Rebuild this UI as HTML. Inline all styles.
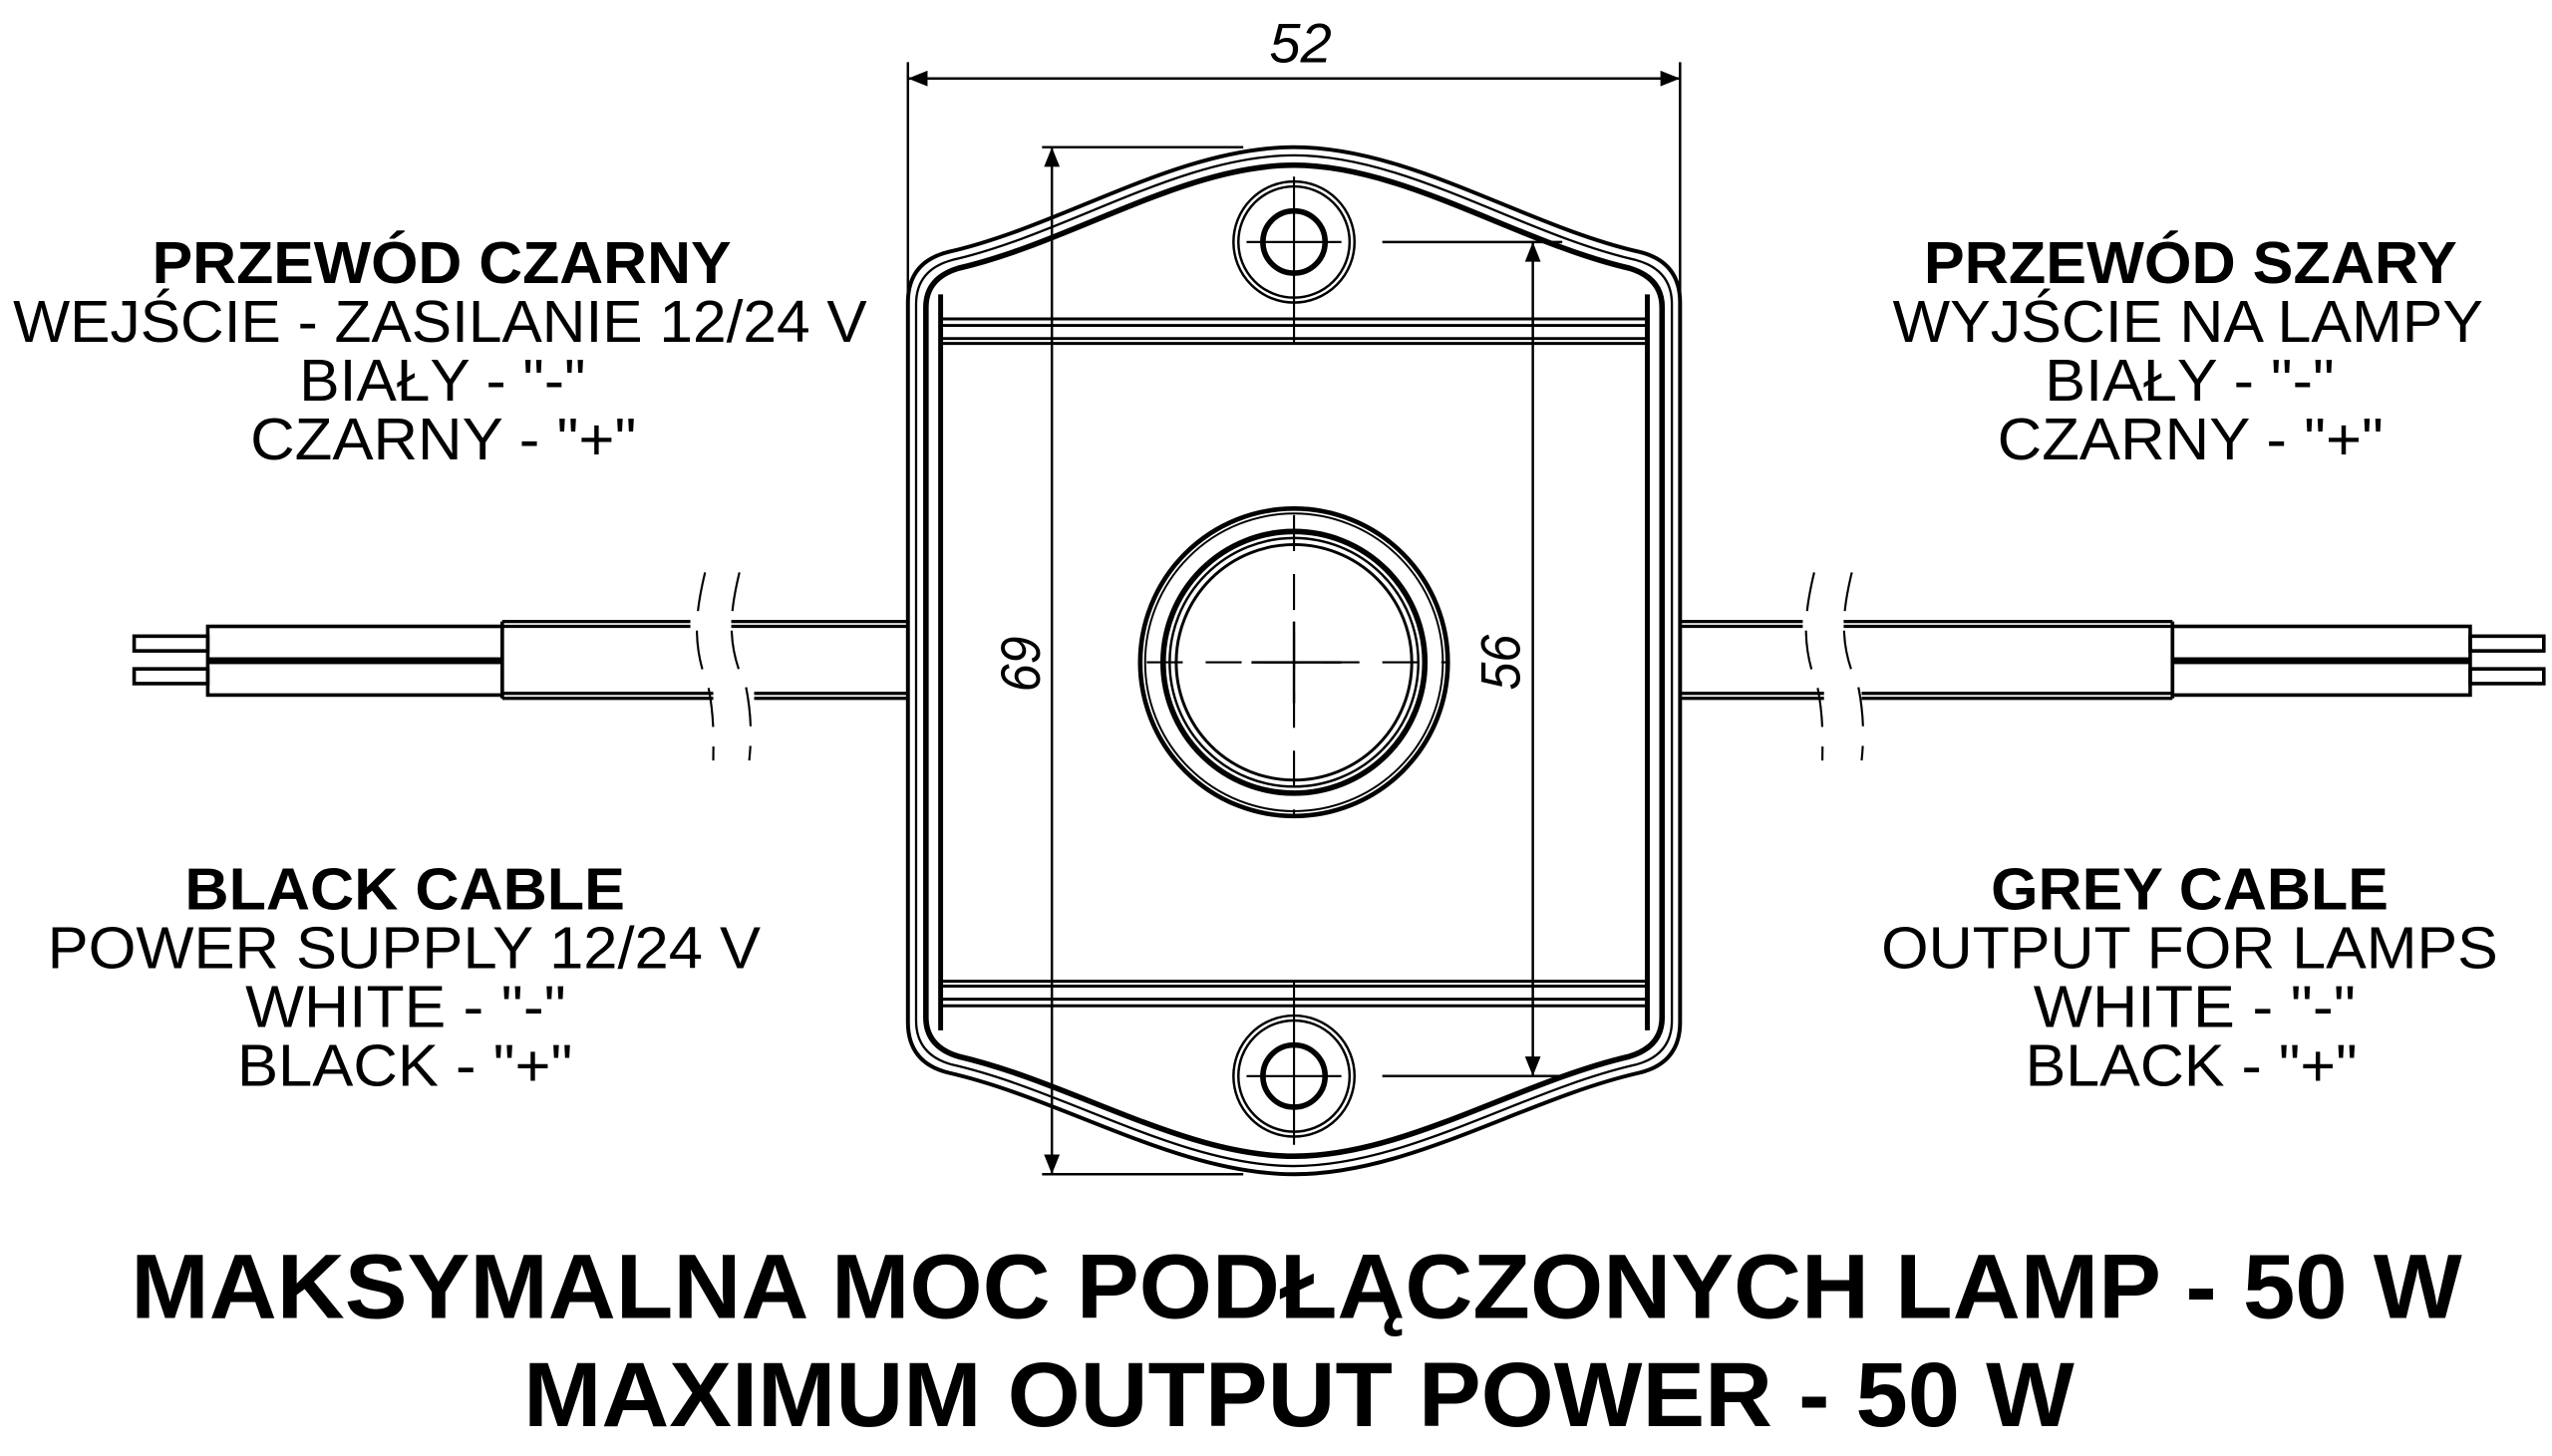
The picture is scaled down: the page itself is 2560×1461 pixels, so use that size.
<!DOCTYPE html>
<html><head><meta charset="utf-8"><style>html,body{margin:0;padding:0;background:#fff}svg{display:block}</style></head>
<body>
<svg width="2560" height="1461" viewBox="0 0 1560 890.3" xmlns="http://www.w3.org/2000/svg" font-family="Liberation Sans, sans-serif">
<rect width="1560" height="890.3" fill="#fff"/>
<defs>
<marker id="a" viewBox="0 0 10 10" refX="10" refY="5" markerWidth="34" markerHeight="12" markerUnits="userSpaceOnUse" orient="auto-start-reverse"><path d="M0,1 L10,5 L0,9Z" fill="#000"/></marker>
</defs>
<g stroke="#000" fill="none">
<line x1="555" y1="38" x2="555" y2="180" stroke-width="1.5"/>
<line x1="1027" y1="38" x2="1027" y2="180" stroke-width="1.5"/>
<line x1="555" y1="48" x2="1027" y2="48" stroke-width="1.5" marker-start="url(#a)" marker-end="url(#a)"/>
<path d="M555,185 L555,625 Q555,650 580,656 C650,672 720,718 791,718 C862,718 932,672 1002,656 Q1027,650 1027,625 L1027,185 Q1027,160 1002,154 C932,138 862,90 791,90 C720,90 650,138 580,154 Q555,160 555,185 Z" stroke-width="2.4"/>
<path d="M560,186 L560,624 Q560,645 582,651 C652,667 722,713 791,713 C860,713 930,667 1000,651 Q1022,645 1022,624 L1022,186 Q1022,165 1000,159 C930,143 860,95 791,95 C722,95 652,143 582,159 Q560,165 560,186 Z" stroke-width="1.4"/>
<path d="M566,188 L566,622 Q566,640 586,646 C655,662 724,707 791,707 C858,707 927,662 996,646 Q1016,640 1016,622 L1016,188 Q1016,170 996,164 C927,148 858,101 791,101 C724,101 655,148 586,164 Q566,170 566,188 Z" stroke-width="3.4"/>
<line x1="575" y1="180" x2="575" y2="630" stroke-width="3"/>
<line x1="1007" y1="180" x2="1007" y2="630" stroke-width="3"/>
<path d="M576,195 H1006 M576,199 H1006 M576,207 H1006 M576,210 H1006" stroke-width="1.8"/>
<path d="M576,600 H1006 M576,603 H1006 M576,611 H1006 M576,615 H1006" stroke-width="1.8"/>
<circle cx="791" cy="148" r="37" stroke-width="1.5"/><circle cx="791" cy="148" r="34" stroke-width="1.5"/><circle cx="791" cy="148" r="19" stroke-width="3.4"/>
<circle cx="791" cy="658" r="37" stroke-width="1.5"/><circle cx="791" cy="658" r="34" stroke-width="1.5"/><circle cx="791" cy="658" r="19" stroke-width="3.4"/>
<path d="M791,108 V210 M762,148 H820 M791,600 V700 M762,658 H820" stroke-width="1.3"/>
<circle cx="791" cy="405" r="94" stroke-width="2.8"/><circle cx="791" cy="405" r="91" stroke-width="1.2"/>
<circle cx="791" cy="405" r="80" stroke-width="3.4"/><circle cx="791" cy="405" r="76" stroke-width="1.5"/><circle cx="791" cy="405" r="72" stroke-width="1.8"/>
<path d="M701,405 H885 M791,315 V500" stroke-width="1.3" stroke-dasharray="22,14"/>
<path d="M765,405 H820 M791,380 V430" stroke-width="1.5"/>
<path d="M637,90 H760 M637,718 H760" stroke-width="1.5"/>
<line x1="643" y1="90" x2="643" y2="718" stroke-width="1.5" marker-start="url(#a)" marker-end="url(#a)"/>
<path d="M845,148 H955 M845,658 H955" stroke-width="1.5"/>
<line x1="937" y1="148" x2="937" y2="658" stroke-width="1.5" marker-start="url(#a)" marker-end="url(#a)"/>
<path d="M307,380 H422 M307,383 H422 M447,380 H555 M447,383 H555" stroke-width="2"/>
<path d="M307,424 H436 M307,427 H436 M461,424 H555 M461,427 H555" stroke-width="2"/>
<line x1="307" y1="380" x2="307" y2="427" stroke-width="2.2"/>
<rect x="127" y="383" width="180" height="20" stroke-width="2.2"/>
<rect x="127" y="405" width="180" height="20" stroke-width="2.2"/>
<rect x="82" y="389" width="45" height="9" stroke-width="2.2"/>
<rect x="82" y="409" width="45" height="9" stroke-width="2.2"/>
<path d="M431,350 C425,375 423,395 433,420 C437,440 436,455 436,465" stroke-width="1.3" stroke-dasharray="24,12"/>
<path d="M452,350 C446,375 444,395 456,420 C460,440 459,455 458,465" stroke-width="1.3" stroke-dasharray="24,12"/>
<path d="M1027,380 H1102 M1027,383 H1102 M1127,380 H1328 M1127,383 H1328" stroke-width="2"/>
<path d="M1027,424 H1115 M1027,427 H1115 M1138,424 H1328 M1138,427 H1328" stroke-width="2"/>
<line x1="1328" y1="380" x2="1328" y2="427" stroke-width="2.2"/>
<rect x="1328" y="383" width="182" height="20" stroke-width="2.2"/>
<rect x="1328" y="405" width="182" height="20" stroke-width="2.2"/>
<rect x="1510" y="389" width="45" height="9" stroke-width="2.2"/>
<rect x="1510" y="409" width="45" height="9" stroke-width="2.2"/>
<path d="M1109,350 C1103,375 1101,395 1111,420 C1115,440 1114,455 1114,465" stroke-width="1.3" stroke-dasharray="24,12"/>
<path d="M1132,350 C1126,375 1124,395 1136,420 C1140,440 1139,455 1138,465" stroke-width="1.3" stroke-dasharray="24,12"/>
</g>
<g fill="#000" font-size="36" text-anchor="start">
<text x="776" y="38" font-size="34" font-style="italic" textLength="38" lengthAdjust="spacingAndGlyphs">52</text>
<text transform="translate(612,405) rotate(90)" text-anchor="middle" font-size="34" font-style="italic" textLength="34" lengthAdjust="spacingAndGlyphs">69</text>
<text transform="translate(929,405) rotate(-90)" text-anchor="middle" font-size="34" font-style="italic" textLength="34" lengthAdjust="spacingAndGlyphs">56</text>

<text x="93" y="173" font-weight="bold" textLength="354" lengthAdjust="spacingAndGlyphs">PRZEWÓD CZARNY</text>
<text x="8" y="209" textLength="522" lengthAdjust="spacingAndGlyphs">WEJŚCIE - ZASILANIE 12/24 V</text>
<text x="183" y="245" textLength="175" lengthAdjust="spacingAndGlyphs">BIAŁY - "-"</text>
<text x="153" y="281" textLength="236" lengthAdjust="spacingAndGlyphs">CZARNY - "+"</text>

<text x="1176" y="173" font-weight="bold" textLength="326" lengthAdjust="spacingAndGlyphs">PRZEWÓD SZARY</text>
<text x="1157" y="209" textLength="361" lengthAdjust="spacingAndGlyphs">WYJŚCIE NA LAMPY</text>
<text x="1250" y="245" textLength="177" lengthAdjust="spacingAndGlyphs">BIAŁY - "-"</text>
<text x="1221" y="281" textLength="236" lengthAdjust="spacingAndGlyphs">CZARNY - "+"</text>

<text x="113" y="556" font-weight="bold" textLength="269" lengthAdjust="spacingAndGlyphs">BLACK CABLE</text>
<text x="29" y="592" textLength="436" lengthAdjust="spacingAndGlyphs">POWER SUPPLY 12/24 V</text>
<text x="150" y="628" textLength="196" lengthAdjust="spacingAndGlyphs">WHITE - "-"</text>
<text x="145" y="664" textLength="205" lengthAdjust="spacingAndGlyphs">BLACK - "+"</text>

<text x="1217" y="556" font-weight="bold" textLength="243" lengthAdjust="spacingAndGlyphs">GREY CABLE</text>
<text x="1150" y="592" textLength="377" lengthAdjust="spacingAndGlyphs">OUTPUT FOR LAMPS</text>
<text x="1243" y="628" textLength="197" lengthAdjust="spacingAndGlyphs">WHITE - "-"</text>
<text x="1238" y="664" textLength="203" lengthAdjust="spacingAndGlyphs">BLACK - "+"</text>

<text x="80" y="806" font-size="56" font-weight="bold" textLength="1425" lengthAdjust="spacingAndGlyphs">MAKSYMALNA MOC PODŁĄCZONYCH LAMP - 50 W</text>
<text x="320" y="872" font-size="56" font-weight="bold" textLength="948" lengthAdjust="spacingAndGlyphs">MAXIMUM OUTPUT POWER - 50 W</text>
</g>
</svg>
</body></html>
